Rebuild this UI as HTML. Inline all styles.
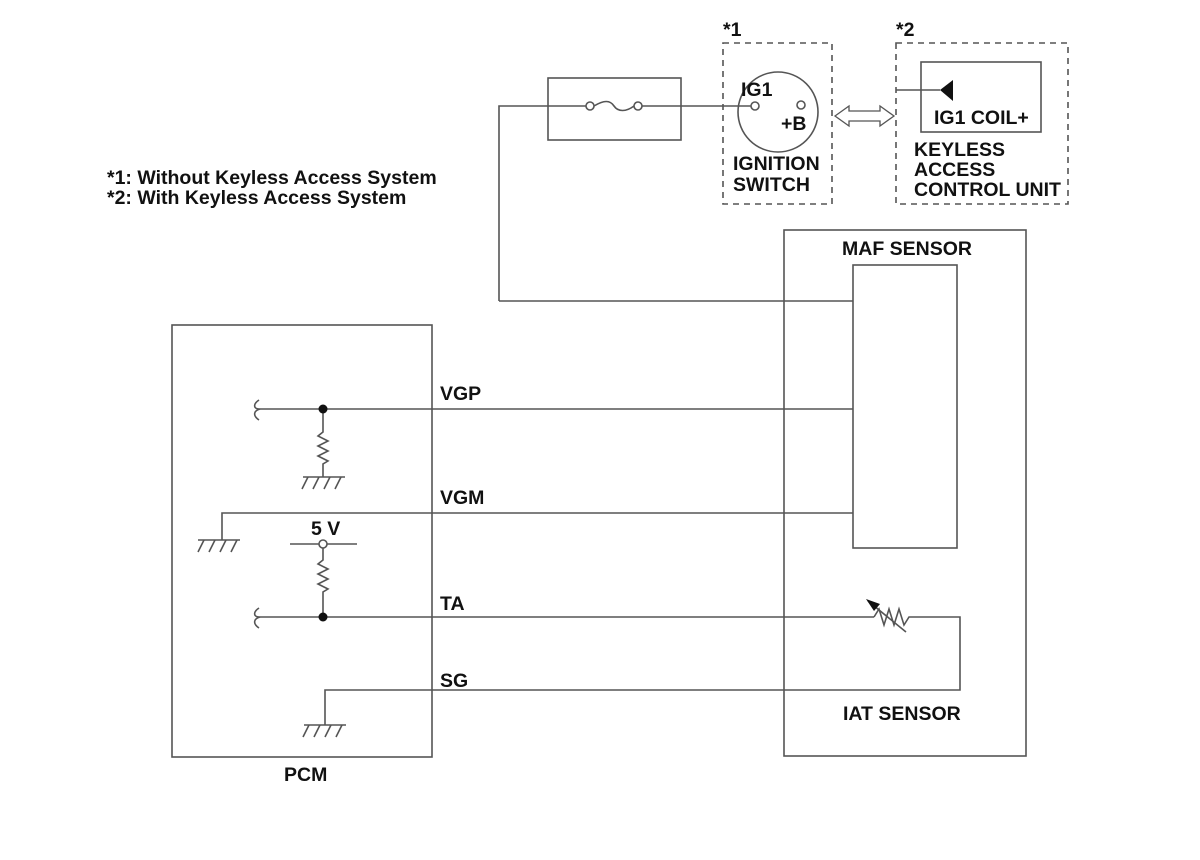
<!DOCTYPE html>
<html><head><meta charset="utf-8"><style>body{margin:0;background:#fff}svg{display:block}text{font-family:"Liberation Sans",Arial,sans-serif;font-weight:bold;font-size:19.5px;fill:#111}</style></head>
<body>
<svg width="1200" height="860" viewBox="0 0 1200 860" xmlns="http://www.w3.org/2000/svg">
<g fill="none" stroke="#555" stroke-width="1.6">
<rect x="548" y="78" width="133" height="62"/>
<polyline points="499,301 499,106 586,106"/>
<circle cx="590" cy="106" r="4"/>
<circle cx="638" cy="106" r="4"/>
<path d="M594,106 C604,100 610,100 614,106 C618,112 626,112 634,106"/>
<line x1="642" y1="106" x2="751" y2="106"/>
<circle cx="778" cy="112" r="40"/>
<circle cx="755" cy="106" r="4"/>
<circle cx="801" cy="105" r="4"/>
<g stroke-dasharray="6,5"><rect x="723" y="43" width="109" height="161"/><rect x="896" y="43" width="172" height="161"/></g>
<path d="M835,116 L849,106 L849,111 L880,111 L880,106 L894,116 L880,126 L880,121 L849,121 L849,126 Z" stroke-width="1.3"/>
<rect x="921" y="62" width="120" height="70"/>
<line x1="896" y1="90" x2="940" y2="90"/>
<rect x="784" y="230" width="242" height="526"/>
<rect x="853" y="265" width="104" height="283"/>
<line x1="499" y1="301" x2="853" y2="301"/>
<rect x="172" y="325" width="260" height="432"/>
<line x1="260" y1="409" x2="853" y2="409"/>
<path d="M259,400 C253,404 253,409 260,409 C253,411 253,416 259,420"/>
<polyline points="323,409 323,432 318,436 328,441 318,446 328,451 318,456 328,461 323,464 323,477"/>
<line x1="303" y1="477" x2="345" y2="477"/>
<path d="M308,477 L302,489 M319,477 L313,489 M330,477 L324,489 M341,477 L335,489"/>
<polyline points="853,513 222,513 222,540"/>
<line x1="198" y1="540" x2="240" y2="540"/>
<path d="M204,540 L198,552 M215,540 L209,552 M226,540 L220,552 M237,540 L231,552"/>
<line x1="290" y1="544" x2="357" y2="544"/>
<polyline points="323,548 323,560 318,564 328,569 318,574 328,579 318,584 328,589 323,592 323,617"/>
<line x1="260" y1="617" x2="874" y2="617"/>
<path d="M259,608 C253,612 253,617 260,617 C253,619 253,624 259,628"/>
<polyline points="874,617 879,609 884,625 889,609 894,625 899,609 904,625 909,617 960,617 960,690 325,690 325,725"/>
<line x1="868" y1="601" x2="906" y2="632"/>
<line x1="304" y1="725" x2="346" y2="725"/>
<path d="M309,725 L303,737 M320,725 L314,737 M331,725 L325,737 M342,725 L336,737"/>
</g>
<polygon points="940,90 953,80 953,101" fill="#111"/>
<polygon points="866,599 880,604 874,611" fill="#111"/>
<circle cx="323" cy="409" r="4.5" fill="#111"/>
<circle cx="323" cy="617" r="4.5" fill="#111"/>
<circle cx="323" cy="544" r="4" fill="#fff" stroke="#555" stroke-width="1.6"/>
<text x="723" y="36">*1</text>
<text x="896" y="36">*2</text>
<text x="741" y="96">IG1</text>
<text x="781" y="130">+B</text>
<text x="733" y="170">IGNITION</text>
<text x="733" y="191">SWITCH</text>
<text x="934" y="124">IG1 COIL+</text>
<text x="914" y="156">KEYLESS</text>
<text x="914" y="176">ACCESS</text>
<text x="914" y="196">CONTROL UNIT</text>
<text x="107" y="184">*1: Without Keyless Access System</text>
<text x="107" y="204">*2: With Keyless Access System</text>
<text x="842" y="255">MAF SENSOR</text>
<text x="440" y="400">VGP</text>
<text x="440" y="504">VGM</text>
<text x="311" y="535">5 V</text>
<text x="440" y="610">TA</text>
<text x="440" y="687">SG</text>
<text x="843" y="720">IAT SENSOR</text>
<text x="284" y="781">PCM</text>
</svg>
</body></html>
